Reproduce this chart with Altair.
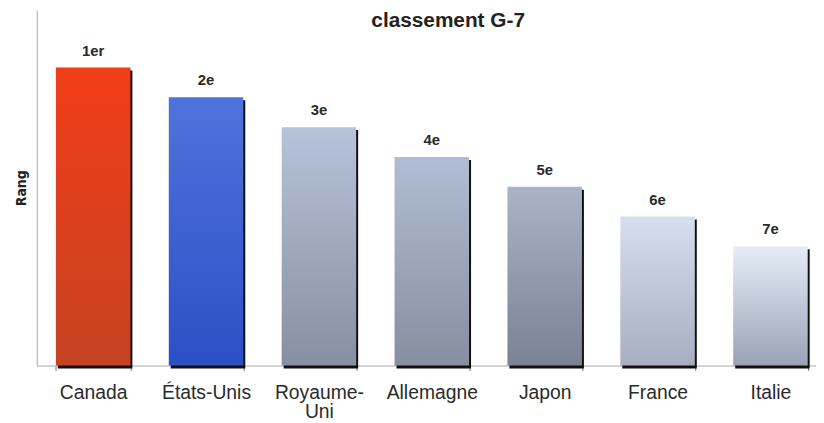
import altair as alt
import pandas as pd

pays = ["Canada", "États-Unis", "Royaume-Uni", "Allemagne", "Japon", "France", "Italie"]
valeurs = [10, 9, 8, 7, 6, 5, 4]
rangs = ["1er", "2e", "3e", "4e", "5e", "6e", "7e"]
couleur_haut = ["#f23c18", "#5072dc", "#b6c3da", "#b0bdd4", "#a9b4c8", "#d6dfee", "#e6edf8"]
couleur_bas = ["#c64322", "#2c4fc6", "#878fa2", "#878fa0", "#7a8294", "#a6aec0", "#9aa2b6"]

df = pd.DataFrame({"pays": pays, "valeur": valeurs, "rang": rangs})

FONT = "Liberation Sans"

xscale = alt.Scale(domain=pays, range=[0, 798], paddingInner=0.34, paddingOuter=0.17)
yscale = alt.Scale(domain=[0, 11.93], nice=False, zero=True)

base = alt.Chart(df).encode(
    x=alt.X(
        "pays:N",
        scale=xscale,
        sort=pays,
        axis=alt.Axis(
            title=None,
            labelAngle=0,
            tickBand="extent",
            tickSize=5,
            tickWidth=1,
            tickColor="#777777",
            domainColor="#a8a8a8",
            labelColor="#2a2a2a",
            labelFont=FONT,
            labelFontSize=19.5,
            labelPadding=13,
            labelLineHeight=20,
            labelExpr="datum.value == 'Royaume-Uni' ? ['Royaume-', 'Uni'] : datum.value",
        ),
    ),
    y=alt.Y(
        "valeur:Q",
        scale=yscale,
        axis=alt.Axis(
            title="Rang",
            labels=False,
            ticks=False,
            grid=False,
            domainColor="#a8a8a8",
            titleFont="DejaVu Sans Condensed, Liberation Sans",
            titleFontSize=14,
            titleFontWeight="bold",
            titleColor="#222222",
            titlePadding=8,
        ),
    ),
)

ombre = base.mark_bar(color="#111111", xOffset=2, yOffset=3)

layers = [ombre]
for i, p in enumerate(pays):
    grad = alt.LinearGradient(
        gradient="linear",
        x1=0, x2=0, y1=0, y2=1,
        stops=[
            alt.GradientStop(offset=0, color=couleur_haut[i]),
            alt.GradientStop(offset=1, color=couleur_bas[i]),
        ],
    )
    layers.append(
        base.transform_filter(alt.datum.pays == p).mark_bar(color=grad)
    )

etiquettes = base.mark_text(
    font=FONT, fontSize=15, fontWeight="bold", color="#2a2a2a",
    baseline="bottom", dy=-9,
).encode(text="rang:N")
layers.append(etiquettes)

chart = alt.layer(*layers).properties(
    width=787,
    height=359,
    autosize=alt.AutoSizeParams(type="none"),
    padding={"left": 29, "top": 0, "right": 0, "bottom": 56},
    title=alt.TitleParams(
        "classement G-7",
        font=FONT,
        fontSize=21,
        fontWeight="bold",
        color="#222222",
        anchor="middle",
        offset=-21,
        dx=22,
    ),
    background="white",
).configure_view(stroke=None)

chart.save("out.html", embed_options={"renderer": "svg", "actions": False})
